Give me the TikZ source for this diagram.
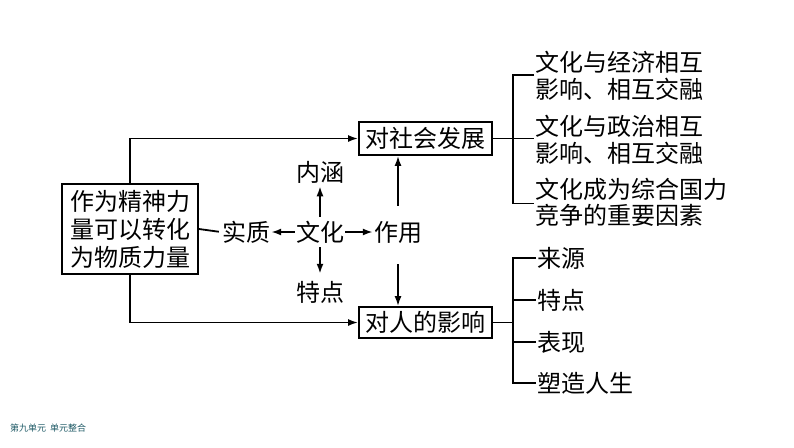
\documentclass[tikz,border=0pt]{standalone}
\usepackage{fontspec}
\setmainfont{Noto Sans CJK SC}
\usetikzlibrary{arrows.meta}
\definecolor{footc}{HTML}{1F5A66}
\tikzset{
  lbl/.style={inner sep=1pt, font=\fontsize{24}{27}\selectfont},
  boxn/.style={draw, line width=1.8pt, inner sep=0pt, align=center, font=\fontsize{24}{28}\selectfont},
  ln/.style={line width=1.8pt},
  arr/.style={line width=1.8pt, -{Latex[length=10pt,width=7pt]}},
  rt/.style={inner sep=1pt, anchor=west, align=left, font=\fontsize{24}{26.5}\selectfont},
}
\begin{document}
\begin{tikzpicture}[x=1pt,y=-1pt]
\useasboundingbox (0,0) rectangle (794,447);
% boxes
\node[boxn, minimum width=136pt, minimum height=90pt] (src) at (130,229) {作为精神力\\量可以转化\\为物质力量};
\node[boxn, minimum width=133pt, minimum height=33pt] (soc) at (425.5,138.5) {对社会发展};
\node[boxn, minimum width=133pt, minimum height=31pt] (per) at (425.5,322.5) {对人的影响};
% centre words
\node[lbl] (wh) at (320,232) {文化};
\node[lbl] (sz) at (246,232) {实质};
\node[lbl] (zy) at (398,232) {作用};
\node[lbl] (nh) at (320,172) {内涵};
\node[lbl] (td) at (320,292) {特点};
% connectors
\draw[arr] (src.north) |- (soc.west);
\draw[arr] (src.south) |- (per.west);
\draw[ln, shorten >=2pt] (src.east) -- (sz.west);
\draw[arr] (wh) -- (sz);
\draw[arr] (wh) -- (zy);
\draw[arr, shorten <=3pt, shorten >=2pt] (wh) -- (nh);
\draw[arr, shorten <=3pt, shorten >=6pt] (wh) -- (td);
\draw[arr, shorten <=14pt] (zy.north) -- (zy.north |- soc.south);
\draw[arr, shorten <=20pt] (zy.south) -- (zy.south |- per.north);
% right group 1
\node[rt] (a1) at (534,76) {文化与经济相互\\影响、相互交融};
\node[rt] (a2) at (534,140) {文化与政治相互\\影响、相互交融};
\node[rt] (a3) at (534,202.5) {文化成为综合国力\\竞争的重要因素};
\coordinate (ba) at (513,138.5);
\draw[ln] (soc.east) -- (ba);
\draw[ln] ([yshift=1pt]a1.west) -| (ba) |- ([yshift=-1pt]a3.west);
\draw[ln] (ba) -- (ba -| a2.west);
% right group 2
\node[rt] (b1) at (536,258) {来源};
\node[rt] (b2) at (536,300) {特点};
\node[rt] (b3) at (536,342) {表现};
\node[rt] (b4) at (536,383) {塑造人生};
\coordinate (bb) at (513,322.5);
\draw[ln] (per.east) -- (bb);
\draw[ln] (b1.west) -| (bb) |- (b4.west);
\draw[ln] (b2.west) -- (b2.west -| bb);
\draw[ln] (b3.west) -- (b3.west -| bb);
% footer
\node[anchor=west, inner sep=0pt, text=footc, font=\fontsize{9}{10}\selectfont] (ft) at (10,428) {第九单元\ \ 单元整合};
\end{tikzpicture}
\end{document}
